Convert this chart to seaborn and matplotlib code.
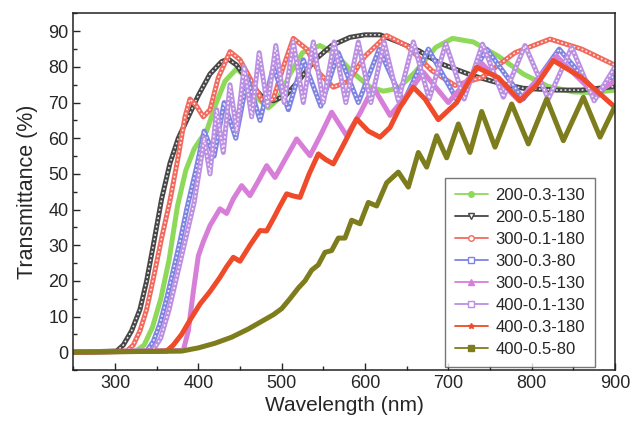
import numpy as np
import pandas as pd
import matplotlib
matplotlib.use("Agg")
import matplotlib.pyplot as plt
from matplotlib.lines import Line2D
from matplotlib.ticker import MultipleLocator
import seaborn as sns

# Transmittance spectra, (wavelength nm, transmittance %) for each sample
wl_200_03_130 = [250, 325, 335, 345, 355, 365, 375, 385, 395, 402, 410, 420, 432, 446, 460, 472, 484, 496, 510, 525, 546, 565, 585, 605, 622, 640, 660, 685, 705, 730, 760, 790, 820, 850, 872, 900]
t_200_03_130 = [0, 0.3, 2, 7, 15, 26, 41, 51, 57, 59.5, 62, 69, 76, 79.5, 76.5, 71, 68.5, 71, 78, 84, 86, 83.5, 78.5, 74.5, 73.2, 74, 78.5, 85.5, 88, 87, 83, 78, 74.5, 73, 72.8, 73.5]

wl_200_05_180 = [250, 302, 310, 320, 330, 338, 346, 356, 366, 376, 386, 400, 414, 428, 436, 446, 460, 475, 490, 505, 520, 540, 560, 582, 600, 618, 640, 665, 690, 730, 760, 790, 830, 860, 900]
t_200_05_180 = [0, 0.3, 2, 6, 12, 20, 30, 43, 53, 60, 65, 72, 78, 81.5, 82.2, 80.5, 76, 72, 70.5, 72, 76, 82, 86, 88.3, 89, 89, 87, 84.5, 81, 77.5, 75.5, 74, 73.5, 73.5, 74.5]

wl_300_01_180 = [250, 314, 322, 330, 338, 346, 356, 366, 376, 384, 390, 398, 406, 414, 424, 438, 450, 464, 478, 490, 502, 514, 530, 546, 562, 580, 600, 626, 650, 680, 708, 740, 780, 822, 860, 900]
t_300_01_180 = [0, 0.3, 2, 6, 12, 20.6, 32, 42.5, 55, 66, 71, 69, 66, 68, 77, 84.3, 82, 76, 70, 71, 80, 88, 85, 78, 74.3, 76, 83, 88.8, 86, 79, 74.8, 77, 84, 87.8, 85, 80.5]

wl_300_03_80 = [250, 338, 346, 354, 362, 370, 378, 386, 392, 398, 407, 419, 431, 445, 459, 474, 490, 508, 526, 547, 568, 592, 617, 646, 676, 711, 746, 790, 833, 880, 900]
t_300_03_80 = [0, 0.3, 3, 8, 15, 23, 31, 40, 46, 52, 62, 55, 70, 60, 77, 65, 80, 68, 82, 69, 84, 70, 85, 70, 85, 70.5, 85, 71, 85, 72, 78]

wl_300_05_130 = [250, 382, 388, 394, 400, 406, 414, 426, 434, 442, 452, 462, 472, 482, 492, 504, 518, 534, 547, 560, 578, 594, 610, 630, 650, 670, 700, 740, 785, 830, 875, 900]
t_300_05_130 = [0, 0.5, 6, 17, 27, 31, 35.5, 40.2, 38.9, 43, 46.7, 43.9, 48, 52.3, 49, 54, 59.8, 55.1, 61, 67.3, 60.7, 67, 74.3, 66.4, 72, 78.5, 70, 81, 70.5, 83, 72.5, 76]

wl_400_01_130 = [250, 345, 355, 365, 375, 385, 395, 402, 407, 414, 422, 430, 438, 446, 455, 464, 473, 483, 493, 503, 514, 526, 538, 550, 563, 577, 592, 607, 623, 640, 658, 677, 697, 719, 741, 766, 792, 820, 848, 875, 900]
t_400_01_130 = [0, 0.3, 4, 12, 22, 32, 42, 52, 60, 50, 68, 56, 75, 62, 80, 66, 84, 69, 86, 70, 87, 70, 87, 70, 87, 70, 87, 70, 87, 70.5, 87, 71, 86.5, 71, 86.4, 71.5, 86, 71, 85.5, 70.5, 80]

wl_400_03_180 = [250, 362, 370, 380, 390, 402, 414, 426, 434, 442, 450, 462, 474, 482, 490, 498, 506, 514, 522, 533, 544, 553, 562, 576, 590, 604, 618, 630, 642, 658, 672, 688, 710, 734, 760, 786, 806, 826, 860, 900]
t_400_03_180 = [0, 0.3, 2, 5, 9, 13.5, 17, 21, 24, 26.6, 25.5, 30, 34.1, 34, 37.4, 41, 44.4, 43.8, 43.4, 50, 55.6, 54, 52.8, 59, 65.4, 62, 60.3, 63, 68.7, 74.3, 71, 65.2, 70, 79.9, 77, 70.5, 75, 81.8, 77, 68.7]

wl_400_05_80 = [250, 380, 400, 420, 440, 460, 475, 490, 500, 510, 520, 528, 536, 544, 552, 560, 568, 576, 584, 594, 604, 614, 626, 640, 652, 664, 674, 686, 698, 712, 726, 740, 756, 776, 796, 818, 838, 862, 882, 900]
t_400_05_80 = [0, 0.3, 1.2, 2.5, 4.2, 6.5, 8.5, 10.5, 12.2, 15, 18, 20, 23, 24.5, 28, 28.5, 32, 32, 37, 36, 42, 41, 47.5, 50.5, 46.3, 56, 51.9, 60.7, 54.5, 64, 56, 67.5, 57.5, 69.6, 58.4, 71, 59.3, 71.5, 60.3, 69]

labels = ["200-0.3-130", "200-0.5-180", "300-0.1-180", "300-0.3-80",
          "300-0.5-130", "400-0.1-130", "400-0.3-180", "400-0.5-80"]
wavelengths = [wl_200_03_130, wl_200_05_180, wl_300_01_180, wl_300_03_80,
               wl_300_05_130, wl_400_01_130, wl_400_03_180, wl_400_05_80]
transmittance = [t_200_03_130, t_200_05_180, t_300_01_180, t_300_03_80,
                 t_300_05_130, t_400_01_130, t_400_03_180, t_400_05_80]

colors = ["#8fd95a", "#474747", "#f26a5e", "#7f84e2",
          "#d77fd8", "#bb8fe2", "#ef4a2a", "#7d7d1e"]
markers = ["o", "v", "o", "s", "^", "s", "*", "s"]
hollow = [False, True, True, True, False, True, False, False]

frames = []
for lab, w, t in zip(labels, wavelengths, transmittance):
    frames.append(pd.DataFrame({"Wavelength": w, "T": t, "sample": lab}))
df = pd.concat(frames, ignore_index=True)

sns.set_style("ticks")
plt.rcParams["font.family"] = ["Liberation Sans", "DejaVu Sans"]

fig = plt.figure(figsize=(6.33, 4.33), dpi=100)
ax = fig.add_axes([0.1158, 0.1455, 0.8558, 0.8235])

for lab, col, hol in zip(labels, colors, hollow):
    sub = df[df["sample"] == lab]
    sns.lineplot(data=sub, x="Wavelength", y="T", ax=ax, color=col,
                 lw=3.6, sort=False, estimator=None, legend=False,
                 solid_joinstyle="round", solid_capstyle="round")
    if hol:
        sns.lineplot(data=sub, x="Wavelength", y="T", ax=ax, color="white",
                     lw=1.1, sort=False, estimator=None, legend=False,
                     linestyle=(0, (1.2, 1.6)), alpha=0.9)

ax.set_xlim(250, 900)
ax.set_ylim(-5, 95)
ax.xaxis.set_major_locator(MultipleLocator(100))
ax.xaxis.set_minor_locator(MultipleLocator(50))
ax.yaxis.set_major_locator(MultipleLocator(10))
ax.yaxis.set_minor_locator(MultipleLocator(5))
ax.tick_params(which="both", direction="in", top=False, right=False,
               labelsize=13, width=1)
ax.tick_params(which="major", length=5)
ax.tick_params(which="minor", length=3)
for s in ax.spines.values():
    s.set_linewidth(1.1)
    s.set_color("#222222")
ax.set_xlabel("Wavelength (nm)", fontsize=15, labelpad=3)
ax.set_ylabel("Transmittance (%)", fontsize=15.5, labelpad=7)

handles = []
for lab, col, mk, hol in zip(labels, colors, markers, hollow):
    handles.append(Line2D([0], [0], color=col, lw=1.3, marker=mk, markersize=4,
                          markerfacecolor=("white" if hol else col),
                          markeredgecolor=col, label=lab))
leg = ax.legend(handles=handles, loc="lower right", bbox_to_anchor=(0.963, 0.008),
                fontsize=12, frameon=True, fancybox=False, handlelength=2.0,
                handletextpad=0.45, labelspacing=0.42, borderpad=0.6,
                borderaxespad=0.0)
leg.get_frame().set_edgecolor("#555555")
leg.get_frame().set_linewidth(1.0)

fig.savefig("out.png", dpi=100)
